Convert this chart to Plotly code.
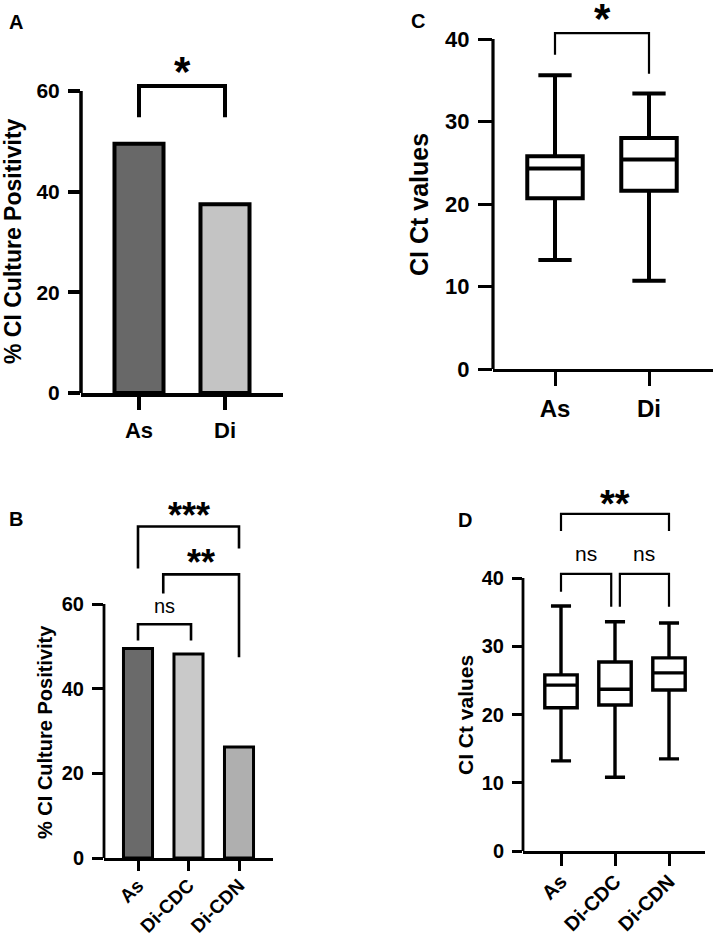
import plotly.graph_objects as go

W, H = 714, 933
FONT = "Arial, Liberation Sans, Helvetica, sans-serif"
INK = "#000000"

# ---- data ---------------------------------------------------------------
# A: % culture positivity, two groups
a_groups = ["As", "Di"]
a_values = [49.5, 37.5]
a_colors = ["#686868", "#c4c4c4"]

# B: % culture positivity, three groups
b_groups = ["As", "Di-CDC", "Di-CDN"]
b_values = [49.5, 48.2, 26.2]
b_colors = ["#6a6a6a", "#c9c9c9", "#afafaf"]

# C: Ct values, box summaries (min, q1, median, q3, max)
c_groups = ["As", "Di"]
c_low = [13.2, 10.7]
c_q1 = [20.7, 21.6]
c_med = [24.3, 25.4]
c_q3 = [25.8, 28.0]
c_high = [35.6, 33.4]

# D: Ct values, three groups
d_groups = ["As", "Di-CDC", "Di-CDN"]
d_low = [13.2, 10.8, 13.5]
d_q1 = [21.0, 21.4, 23.6]
d_med = [24.3, 23.7, 26.1]
d_q3 = [25.8, 27.7, 28.3]
d_high = [35.9, 33.6, 33.4]

# significance brackets: (left x, right x, top, left leg end, right leg end, label)
a_sig = [(0, 1, 61.0, 54.8, 54.8, "*")]
b_sig = [(0, 1.05, 55.2, 51.4, 51.4, "ns"),
         (0.5, 2, 67.0, 62.5, 47.4, "**"),
         (0, 2, 78.3, 68.4, 73.1, "***")]
c_sig = [(0, 1, 40.7, 38.1, 35.8, "*")]
d_sig = [(0, 2, 49.4, 46.9, 46.9, "**"),
         (0, 0.93, 40.6, 38.0, 35.8, "ns"),
         (1.09, 2, 40.6, 35.8, 35.8, "ns")]

a_ticks = [0, 20, 40, 60]
b_ticks = [0, 20, 40, 60]
c_ticks = [0, 10, 20, 30, 40]
d_ticks = [0, 10, 20, 30, 40]


# ---- panel geometry (pixels in the 714x933 page) -------------------------
def frame(x0, x1, cat0, step, y0, yref_px, yref_val, ytop):
    """Axis domain + range from pixel calibration of a panel."""
    scale = (y0 - yref_px) / yref_val
    return dict(
        xdomain=[x0 / W, x1 / W],
        xrange=[-(cat0 - x0) / step, (x1 - cat0) / step],
        ydomain=[1 - y0 / H, 1 - ytop / H],
        yrange=[0, (y0 - ytop) / scale],
    )


PANELS = {
    "A": frame(81, 283, 139, 86, 393, 91, 60, 55),
    "B": frame(104, 273, 138, 50.5, 858, 604, 60, 515),
    "C": frame(493, 713, 555, 94, 369, 39, 40, 25),
    "D": frame(523, 705, 561, 54, 851, 578, 40, 505),
}

fig = go.Figure()

# bars
for groups, vals, cols, ax, lw, width in [
    (a_groups, a_values, a_colors, "", 4, 0.57),
    (b_groups, b_values, b_colors, "2", 3, 0.575),
]:
    fig.add_trace(go.Bar(
        x=list(range(len(groups))), y=vals, width=width,
        marker=dict(color=cols, line=dict(color=INK, width=lw)),
        xaxis="x" + ax, yaxis="y" + ax, showlegend=False, hoverinfo="skip",
    ))

# box plots (min to max whiskers)
for groups, lo, q1, med, q3, hi, ax, lw, width, ww in [
    (c_groups, c_low, c_q1, c_med, c_q3, c_high, "3", 4, 0.59, 0.6),
    (d_groups, d_low, d_q1, d_med, d_q3, d_high, "4", 3.4, 0.6, 0.62),
]:
    fig.add_trace(go.Box(
        x=list(range(len(groups))), lowerfence=lo, q1=q1, median=med,
        q3=q3, upperfence=hi, width=width, whiskerwidth=ww,
        line=dict(color=INK, width=lw), fillcolor="white",
        boxpoints=False, xaxis="x" + ax, yaxis="y" + ax,
        showlegend=False, hoverinfo="skip",
    ))

layout = dict(
    width=W, height=H, autosize=False, margin=dict(l=0, r=0, t=0, b=0),
    paper_bgcolor="white", plot_bgcolor="white", showlegend=False,
    font=dict(family=FONT, color=INK),
)

axis_style = {
    "A": dict(groups=a_groups, ticks=a_ticks, lw=3.5, xlen=13, ylen=12,
              yfont=21, xfont=22, angle=0, xoff=2),
    "B": dict(groups=b_groups, ticks=b_ticks, lw=2.8, xlen=10, ylen=11,
              yfont=20, xfont=19, angle=-45, xoff=-4),
    "C": dict(groups=c_groups, ticks=c_ticks, lw=3.2, xlen=14, ylen=14,
              yfont=22, xfont=24, angle=0, xoff=2),
    "D": dict(groups=d_groups, ticks=d_ticks, lw=2.8, xlen=12, ylen=10,
              yfont=20, xfont=20, angle=-45, xoff=-4),
}

shapes, annotations = [], []
for i, key in enumerate(["A", "B", "C", "D"]):
    sfx = "" if i == 0 else str(i + 1)
    p, s = PANELS[key], axis_style[key]
    layout["xaxis" + sfx] = dict(
        domain=p["xdomain"], range=p["xrange"], anchor="y" + sfx,
        tickvals=list(range(len(s["groups"]))), ticktext=s["groups"],
        tickangle=s["angle"], ticks="outside", ticklen=s["xlen"],
        tickwidth=s["lw"], tickcolor=INK, showline=True, linewidth=s["lw"],
        linecolor=INK, showgrid=False, zeroline=False, fixedrange=True,
        ticklabelstandoff=s["xoff"], automargin=False,
        tickfont=dict(family=FONT, size=s["xfont"], weight="bold", color=INK),
    )
    layout["yaxis" + sfx] = dict(
        domain=p["ydomain"], range=p["yrange"], anchor="x" + sfx,
        tickvals=s["ticks"], ticks="outside", ticklen=s["ylen"],
        tickwidth=s["lw"], tickcolor=INK, showline=False, showgrid=False,
        zeroline=False, fixedrange=True, ticklabelstandoff=4, automargin=False,
        tickfont=dict(family=FONT, size=s["yfont"], weight="bold", color=INK),
    )
    # the y axis line only runs up to the last tick (Prism style)
    shapes.append(dict(
        type="line", xref="paper", yref="y" + sfx,
        x0=p["xdomain"][0], x1=p["xdomain"][0], y0=0, y1=s["ticks"][-1],
        line=dict(color=INK, width=s["lw"]),
    ))

# significance brackets
for sig, sfx, lw, star_size, ns_size, star_shift, ns_shift in [
    (a_sig, "", 4, 42, 20, -11, 0),
    (b_sig, "2", 2.6, 36, 20, -11, 5),
    (c_sig, "3", 2.2, 42, 20, -11, 0),
    (d_sig, "4", 2.2, 38, 21, -13, 7),
]:
    for x0, x1, top, l_end, r_end, label in sig:
        shapes.append(dict(
            type="path", xref="x" + sfx, yref="y" + sfx,
            path=f"M {x0},{l_end} L {x0},{top} L {x1},{top} L {x1},{r_end}",
            line=dict(color=INK, width=lw),
        ))
        is_ns = label == "ns"
        annotations.append(dict(
            x=(x0 + x1) / 2, y=top, xref="x" + sfx, yref="y" + sfx,
            text=label, showarrow=False, yanchor="bottom",
            yshift=ns_shift if is_ns else star_shift,
            font=dict(family=FONT, size=ns_size if is_ns else star_size,
                      weight="normal" if is_ns else "bold", color=INK),
        ))

# y axis titles
for text, x, y, size in [
    ("% CI Culture Positivity", 13, 241, 23),
    ("% CI Culture Positivity", 45, 732, 20),
    ("CI Ct values", 419, 205, 25),
    ("CI Ct values", 465, 715, 21),
]:
    annotations.append(dict(
        x=x / W, y=1 - y / H, xref="paper", yref="paper", text=text,
        textangle=-90, showarrow=False, xanchor="center", yanchor="middle",
        font=dict(family=FONT, size=size, weight="bold", color=INK),
    ))

# panel letters
for text, x, y in [("A", 16, 22), ("C", 418, 21), ("B", 16, 519), ("D", 465, 520)]:
    annotations.append(dict(
        x=x / W, y=1 - y / H, xref="paper", yref="paper", text=text,
        showarrow=False, xanchor="center", yanchor="middle",
        font=dict(family=FONT, size=20, weight="bold", color=INK),
    ))

layout["shapes"] = shapes
layout["annotations"] = annotations
fig.update_layout(**layout)

# the page's default 8px body margin would push the fixed-size figure
# off the bottom/right of the 714x933 window
fig.write_html("out.html",
               config={"displayModeBar": False, "responsive": False},
               post_script="document.body.style.margin='0';"
                           "document.body.style.overflow='hidden';")
